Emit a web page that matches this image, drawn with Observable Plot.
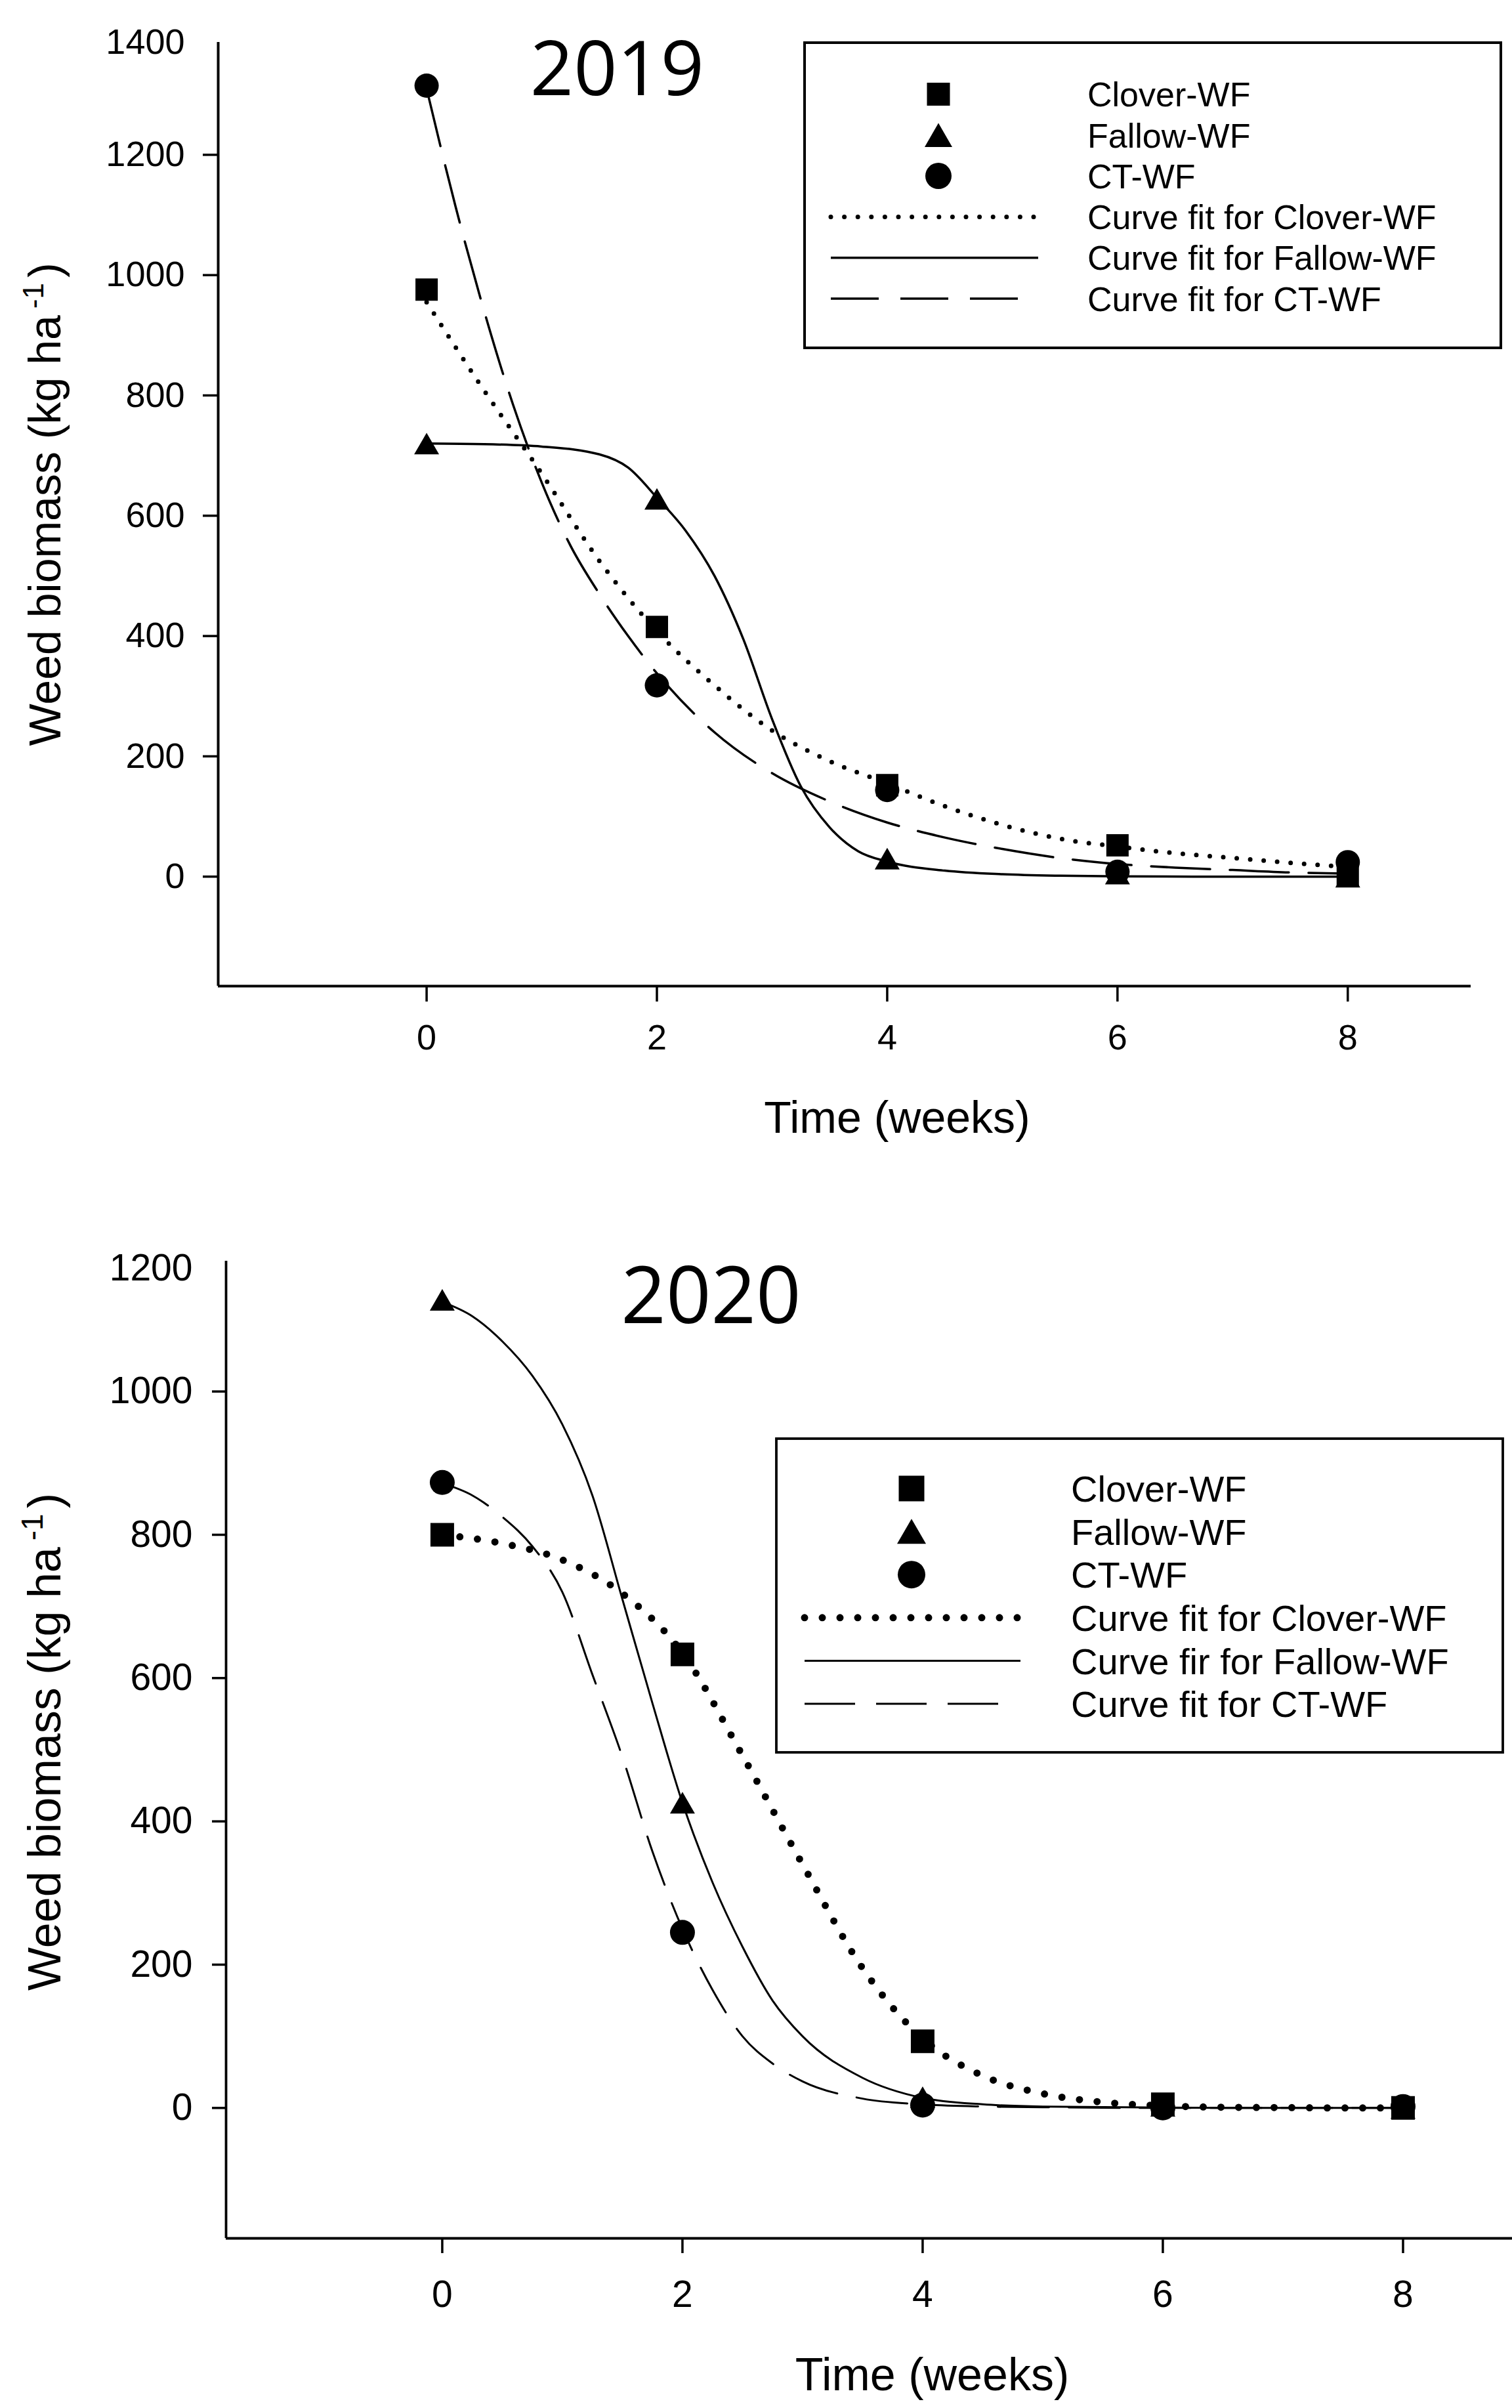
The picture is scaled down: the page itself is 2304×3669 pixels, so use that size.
<!DOCTYPE html>
<html>
<head>
<meta charset="utf-8">
<script src="https://cdn.jsdelivr.net/npm/d3@7"></script>
<script src="https://cdn.jsdelivr.net/npm/@observablehq/plot@0.6"></script>
<style>
html, body { margin: 0; padding: 0; background: #fff; }
#page { position: relative; width: 2304px; height: 3669px; background: #fff; overflow: hidden; }
#top, #bottom { position: absolute; left: 0; }
#top { top: 0; }
#bottom { top: 1834px; }
</style>
</head>
<body>
<div id="page"><div id="top"></div><div id="bottom"></div></div>
<script>
// ---------------- DATA ----------------
const weeks = [0, 2, 4, 6, 8];
const xTicks = [0, 2, 4, 6, 8];
const seriesNames = ["Clover-WF", "Fallow-WF", "CT-WF"];

// 2019 observed
const clover2019 = [976, 415, 152, 52, 2];
const fallow2019 = [720, 628, 30, 5, 0];
const ct2019 = [1315, 318, 144, 8, 24];
// 2019 fitted curves
const fitCloverX2019 = [0, 0.5, 1, 1.5, 2, 2.5, 3, 3.5, 4, 4.5, 5, 5.5, 6, 6.5, 7, 7.5, 8];
const fitCloverY2019 = [955, 808, 670, 525, 408, 318, 243, 192, 155, 117, 86, 63, 50, 39, 31, 23, 16];
const fitFallowX2019 = [0, 0.5, 1, 1.5, 1.75, 2, 2.25, 2.5, 2.75, 3, 3.25, 3.5, 3.75, 4, 4.5, 5, 5.5, 6, 7, 8];
const fitFallowY2019 = [720, 719, 715, 702, 680, 630, 575, 500, 395, 262, 150, 82, 42, 25, 10, 4, 1.5, 0.5, 0, 0];
const fitCTX2019 = [0, 0.25, 0.5, 0.75, 1, 1.25, 1.5, 1.75, 2, 2.5, 3, 3.5, 4, 4.5, 5, 5.5, 6, 6.5, 7, 7.5, 8];
const fitCTY2019 = [1310, 1115, 940, 785, 655, 550, 470, 400, 338, 240, 172, 125, 90, 65, 46, 31, 21, 15, 11, 7, 5];
const yTicks2019 = [0, 200, 400, 600, 800, 1000, 1200];
const yTopLabel2019 = [1400];

// 2020 observed
const clover2020 = [800, 633, 93, 5, 0];
const fallow2020 = [1128, 426, 15, 3, 0];
const ct2020 = [873, 245, 4, 0, 2];
// 2020 fitted curves
const fitCloverX2020 = [0, 0.5, 1, 1.5, 2, 2.5, 3, 3.5, 4, 4.5, 5, 5.5, 6, 6.5, 7, 7.5, 8];
const fitCloverY2020 = [800, 788, 765, 718, 635, 492, 340, 195, 97, 45, 20, 8, 3, 1, 0.5, 0, 0];
const fitFallowX2020 = [0, 0.25, 0.5, 0.75, 1, 1.25, 1.5, 1.75, 2, 2.25, 2.5, 2.75, 3, 3.5, 4, 4.5, 5, 6, 7, 8];
const fitFallowY2020 = [1125, 1105, 1070, 1022, 954, 855, 710, 565, 426, 315, 225, 150, 100, 42, 14, 5, 2, 0.5, 0, 0];
const fitCTX2020 = [0, 0.25, 0.5, 0.75, 1, 1.25, 1.5, 1.75, 2, 2.25, 2.5, 2.75, 3, 3.5, 4, 4.5, 5, 6, 7, 8];
const fitCTY2020 = [872, 855, 825, 784, 720, 605, 490, 358, 250, 165, 100, 62, 37, 13, 5, 2, 1, 0, 0, 0];
const yTicks2020 = [0, 200, 400, 600, 800, 1000];
const yTopLabel2020 = [1200];

const legend2019 = ["Clover-WF", "Fallow-WF", "CT-WF", "Curve fit for Clover-WF", "Curve fit for Fallow-WF", "Curve fit for CT-WF"];
const legend2020 = ["Clover-WF", "Fallow-WF", "CT-WF", "Curve fit for Clover-WF", "Curve fir for Fallow-WF", "Curve fit for CT-WF"];

const xTitle = "Time (weeks)";
const yTitleMain = "Weed biomass (kg ha";
const yTitleSup = "-1";

// ---------------- HELPERS ----------------
const pts = (vals) => weeks.map((w, i) => ({w, v: vals[i]}));
const fit = (xs, ys) => xs.map((w, i) => ({w, v: ys[i]}));
const SANS = "'Liberation Sans', Arial, sans-serif";

function panel(cfg) {
  const L = cfg.layout;
  const dotted = {stroke: "#000", strokeWidth: L.dotW, strokeDasharray: `0,${L.dotGap}`, strokeLinecap: "round", curve: "monotone-x"};
  const solid = {stroke: "#000", strokeWidth: L.lineW, curve: "monotone-x"};
  const dashed = {stroke: "#000", strokeWidth: L.lineW, strokeDasharray: L.dash, curve: "monotone-x"};
  const svg = Plot.plot({
    width: 2304,
    height: L.height,
    marginTop: L.mt, marginBottom: L.mb, marginLeft: L.ml, marginRight: L.mr,
    x: {domain: L.xDom},
    y: {domain: L.yDom},
    style: {fontFamily: SANS, fontSize: L.tickFont + "px", color: "#000", background: "transparent", overflow: "visible"},
    marks: [
      Plot.ruleX([L.xDom[0]], {stroke: "#000", strokeWidth: L.axisW}),
      Plot.ruleY([L.yDom[0]], {stroke: "#000", strokeWidth: L.axisW}),
      Plot.axisX(xTicks, {tickSize: L.xTickSize, tickPadding: L.xTickPad, fontSize: L.tickFont, strokeWidth: L.tickW, tickFormat: d => String(d), label: null, fontFamily: SANS}),
      Plot.axisY(cfg.yTicks, {tickSize: L.yTickSize, tickPadding: L.yTickPad, fontSize: L.tickFont, strokeWidth: L.tickW, tickFormat: d => String(d), label: null, fontFamily: SANS}),
      Plot.axisY(cfg.yTop, {tickSize: 0, tickPadding: L.yTickSize + L.yTickPad, dy: L.topLabelDy, fontSize: L.tickFont, tickFormat: d => String(d), label: null, fontFamily: SANS}),
      Plot.line(fit(cfg.fitCloverX, cfg.fitCloverY), {x: "w", y: "v", ...dotted}),
      Plot.line(fit(cfg.fitFallowX, cfg.fitFallowY), {x: "w", y: "v", ...solid}),
      Plot.line(fit(cfg.fitCTX, cfg.fitCTY), {x: "w", y: "v", ...dashed}),
      Plot.dot(pts(cfg.clover), {x: "w", y: "v", symbol: "square", r: L.rSquare, fill: "#000", stroke: "none"}),
      Plot.dot(pts(cfg.fallow), {x: "w", y: "v", symbol: "triangle", r: L.rTri, dy: L.triDy, fill: "#000", stroke: "none"}),
      Plot.dot(pts(cfg.ct), {x: "w", y: "v", symbol: "circle", r: L.rCircle, fill: "#000", stroke: "none"}),
      Plot.text([cfg.title], {frameAnchor: "top-left", dx: L.titleDx, dy: L.titleDy, text: d => d, fontSize: L.titleFont, fontFamily: "'Open Sans', Lato, sans-serif", textAnchor: "middle", lineAnchor: "middle"}),
      Plot.text([xTitle], {frameAnchor: "bottom", dx: L.xTitleDx, dy: L.xTitleDy, text: d => d, fontSize: L.xTitleFont, fontFamily: SANS, textAnchor: "middle", lineAnchor: "middle"}),
      Plot.text([yTitleMain], {frameAnchor: "left", dx: L.yTitleDx, dy: L.yTitleDy, rotate: -90, text: d => d, fontSize: L.yTitleFont, fontFamily: SANS, textAnchor: "middle", lineAnchor: "middle"})
    ]
  });

  // superscript in the y title
  const yt = d3.select(svg).selectAll("text").filter(function () { return this.textContent === yTitleMain; });
  yt.append("tspan").attr("dx", 10).attr("dy", -L.supShift).attr("font-size", L.supFont).text(yTitleSup);
  yt.append("tspan").attr("dx", 8).attr("dy", L.supShift).text(")");

  // legend box
  const G = cfg.legend;
  const g = d3.select(svg).append("g").attr("font-family", SANS).attr("font-size", G.font).attr("text-anchor", "start");
  g.append("rect").attr("x", G.x0).attr("y", G.y0).attr("width", G.x1 - G.x0).attr("height", G.y1 - G.y0)
    .attr("fill", "#fff").attr("stroke", "#000").attr("stroke-width", G.border);
  const syms = [d3.symbolSquare, d3.symbolTriangle, d3.symbolCircle];
  cfg.legendLabels.forEach((t, i) => {
    const y = G.row0 + i * G.rowStep;
    if (i < 3) {
      g.append("path")
        .attr("transform", `translate(${G.symX},${y + (i === 1 ? G.triDy : 0)})`)
        .attr("d", d3.symbol(syms[i], G.symSizes[i])())
        .attr("fill", "#000");
    } else {
      const ln = g.append("line").attr("x1", G.lx0).attr("x2", i === 5 ? G.lx1Dash : G.lx1).attr("y1", y).attr("y2", y).attr("stroke", "#000");
      if (i === 3) ln.attr("stroke-width", L.dotW).attr("stroke-dasharray", `0,${G.dotGap}`).attr("stroke-linecap", "round");
      if (i === 4) ln.attr("stroke-width", L.lineW);
      if (i === 5) ln.attr("stroke-width", L.lineW).attr("stroke-dasharray", G.dash);
    }
    g.append("text").attr("x", G.textX).attr("y", y).attr("dy", "0.36em").attr("text-anchor", "start").attr("fill", "#000").text(t);
  });
  return svg;
}

// ---------------- PANELS ----------------
const top2019 = panel({
  title: "2019",
  clover: clover2019, fallow: fallow2019, ct: ct2019,
  fitCloverX: fitCloverX2019, fitCloverY: fitCloverY2019,
  fitFallowX: fitFallowX2019, fitFallowY: fitFallowY2019,
  fitCTX: fitCTX2019, fitCTY: fitCTY2019,
  yTicks: yTicks2019, yTop: yTopLabel2019,
  legendLabels: legend2019,
  layout: {
    height: 1800, mt: 64, mb: 298, ml: 332, mr: 63,
    xDom: [-1.81, 9.07], yDom: [-182, 1387],
    axisW: 4, tickW: 3.5, xTickSize: 24, xTickPad: 34, yTickSize: 23, yTickPad: 28, tickFont: 54, topLabelDy: 12,
    lineW: 3.5, dash: "90,30", dotW: 7, dotGap: 20.6,
    rSquare: 19.2, rCircle: 18.5, rTri: 14.1, triDy: 5.5,
    titleDx: 608, titleDy: 43, titleFont: 116,
    xTitleDx: 80, xTitleDy: 202, xTitleFont: 68,
    yTitleDx: -262, yTitleDy: -15, yTitleFont: 68, supFont: 44, supShift: 26
  },
  legend: {
    x0: 1226, x1: 2287, y0: 65, y1: 530, border: 4, font: 52,
    row0: 143.5, rowStep: 62.3, symX: 1430, textX: 1657, lx0: 1266, lx1: 1582, lx1Dash: 1552,
    symSizes: [35 * 35, 764, Math.PI * 20 * 20], triDy: 6, dotGap: 20.6, dash: "73,33"
  }
});
document.getElementById("top").appendChild(top2019);

const bottom2020 = panel({
  title: "2020",
  clover: clover2020, fallow: fallow2020, ct: ct2020,
  fitCloverX: fitCloverX2020, fitCloverY: fitCloverY2020,
  fitFallowX: fitFallowX2020, fitFallowY: fitFallowY2020,
  fitCTX: fitCTX2020, fitCTY: fitCTY2020,
  yTicks: yTicks2020, yTop: yTopLabel2020,
  legendLabels: legend2020,
  layout: {
    height: 1835, mt: 87, mb: 259, ml: 344, mr: 0,
    xDom: [-1.80, 8.91], yDom: [-182, 1182],
    axisW: 3.8, tickW: 3.5, xTickSize: 23, xTickPad: 41, yTickSize: 21, yTickPad: 30, tickFont: 57, topLabelDy: 31,
    lineW: 3, dash: "78,30", dotW: 11, dotGap: 27,
    rSquare: 20.3, rCircle: 19, rTri: 14.1, triDy: 5.5,
    titleDx: 739, titleDy: 56, titleFont: 120,
    xTitleDx: 96, xTitleDy: 209, xTitleFont: 70,
    yTitleDx: -275, yTitleDy: -12, yTitleFont: 70, supFont: 46, supShift: 27
  },
  legend: {
    x0: 1183, x1: 2290, y0: 358, y1: 836, border: 3.8, font: 56,
    row0: 434, rowStep: 65.6, symX: 1389, textX: 1632, lx0: 1226, lx1: 1555, lx1Dash: 1521,
    symSizes: [39 * 39, 840, Math.PI * 21 * 21], triDy: 6, dotGap: 27, dash: "77,32"
  }
});
document.getElementById("bottom").appendChild(bottom2020);
</script>
</body>
</html>
